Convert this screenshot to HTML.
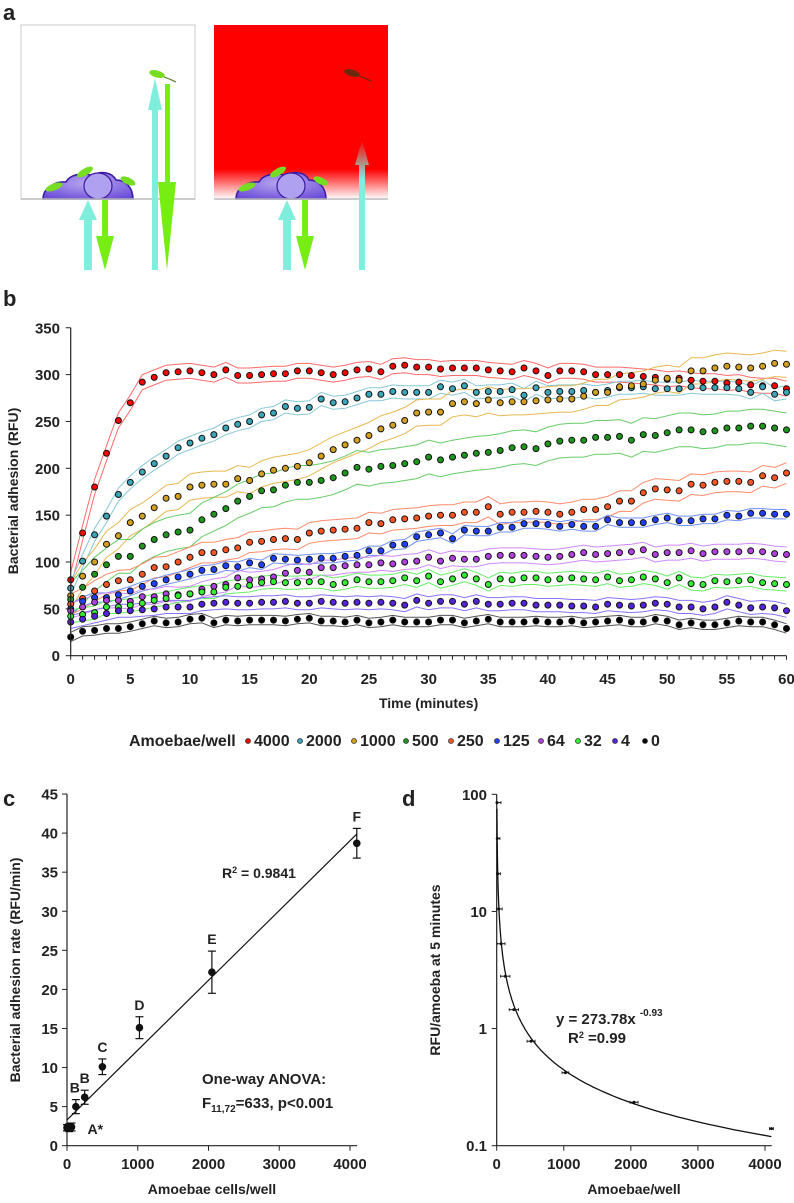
<!DOCTYPE html>
<html><head><meta charset="utf-8"><style>
html,body{margin:0;padding:0;background:#fff;}
svg{display:block;font-family:"Liberation Sans",sans-serif;}
.t{font-weight:bold;fill:#222;}
</style></head><body>
<svg id="fig" width="794" height="1203" viewBox="0 0 794 1203" xmlns="http://www.w3.org/2000/svg">
<defs>
<linearGradient id="redfade" x1="0" y1="0" x2="0" y2="1">
<stop offset="0" stop-color="#ff0000"/><stop offset="0.83" stop-color="#ff0000"/><stop offset="1" stop-color="#ffffff"/>
</linearGradient>
<linearGradient id="cyanfade" x1="0" y1="0" x2="0" y2="1">
<stop offset="0" stop-color="#ff0000"/><stop offset="0.3" stop-color="#80eedd"/><stop offset="1" stop-color="#80eedd"/>
</linearGradient>
<radialGradient id="amoeba" cx="0.5" cy="0.4" r="0.7"><stop offset="0" stop-color="#b8a8f0"/><stop offset="1" stop-color="#6a4ad8"/></radialGradient>
</defs>

<!-- Panel a -->
<g>
<text x="3" y="20" font-size="22" class="t">a</text>
<g>
<rect x="21" y="25" width="174" height="174" fill="#fff" stroke="#ccc" stroke-width="1"/>
<path d="M43,199 C43,188 55,181 66,182 C70,174 85,172 92,176 C100,170 112,172 116,180 C126,180 133,188 133,199 Z" fill="url(#amoeba)" stroke="#3a1aa0" stroke-width="1.5"/>
<ellipse cx="98" cy="186" rx="14" ry="13" fill="#b0a0f0" stroke="#3a1aa0" stroke-width="1.2"/>
<ellipse cx="54" cy="187" rx="9" ry="3.5" fill="#77dd22" transform="rotate(-20 54 187)"/>
<ellipse cx="85" cy="172" rx="9" ry="3.5" fill="#77dd22" transform="rotate(-30 85 172)"/>
<ellipse cx="128" cy="181" rx="8" ry="3.5" fill="#77dd22" transform="rotate(25 128 181)"/>
<ellipse cx="157" cy="74" rx="8" ry="3.5" fill="#77dd22" transform="rotate(15 157 74)"/>
<path d="M164,77 q6,2 12,5" stroke="#557722" fill="none"/>
<line x1="21" y1="199" x2="195" y2="199" stroke="#bbb" stroke-width="1.5"/>
<polygon points="84,270 84,220 79,220 88,200 97,220 92,220 92,270" fill="#80eedd"/>
<polygon points="102,200 108,200 108,236 114,236 105,270 96,236 102,236" fill="#77ee11"/>
<polygon points="152,270 152,110 148,110 155,78 162,110 158,110 158,270" fill="#80eedd"/>
<polygon points="165,84 170,84 170,182 176,182 167,270 158,182 165,182" fill="#77ee11"/>
</g>
<g>
<rect x="214" y="25" width="174" height="174" fill="url(#redfade)"/>
<path d="M236,199 C236,188 248,181 259,182 C263,174 278,172 285,176 C293,170 305,172 309,180 C319,180 326,188 326,199 Z" fill="url(#amoeba)" stroke="#3a1aa0" stroke-width="1.5"/>
<ellipse cx="291" cy="186" rx="14" ry="13" fill="#b0a0f0" stroke="#3a1aa0" stroke-width="1.2"/>
<ellipse cx="247" cy="187" rx="9" ry="3.5" fill="#77dd22" transform="rotate(-20 247 187)"/>
<ellipse cx="278" cy="172" rx="9" ry="3.5" fill="#77dd22" transform="rotate(-30 278 172)"/>
<ellipse cx="321" cy="181" rx="8" ry="3.5" fill="#77dd22" transform="rotate(25 321 181)"/>
<ellipse cx="352" cy="73" rx="8" ry="3.5" fill="#6a2a10" transform="rotate(15 352 73)"/>
<path d="M359,76 q6,2 12,5" stroke="#5a2a10" fill="none"/>
<line x1="214" y1="199" x2="388" y2="199" stroke="#bbb" stroke-width="1.5"/>
<polygon points="283,270 283,220 278,220 287,200 296,220 291,220 291,270" fill="#80eedd"/>
<polygon points="302,200 308,200 308,236 314,236 305,270 296,236 302,236" fill="#77ee11"/>
<polygon points="359,270 359,165 355,165 362,140 369,165 365,165 365,270" fill="url(#cyanfade)"/>
</g>
</g>

<text x="3" y="306" font-size="22" class="t">b</text>
<g id="chartB"></g>
<g id="legendB"></g>

<text x="3" y="806" font-size="22" class="t">c</text>
<g id="chartC"></g>

<text x="402" y="806" font-size="22" class="t">d</text>
<g id="chartD"></g>
</svg>

<script>
// ---------- Panel b data ----------
const bSeriesNames = ["4000","2000","1000","500","250","125","64","32","4","0"];
const bColors = ["#ff0000","#3aa6b8","#d4a020","#1e961e","#ff5522","#2040ff","#b040e0","#33ee33","#5522dd","#000000"];
const bBandColors = ["#ff6a6a","#86c8d6","#e8b850","#66cc66","#ff8a6a","#7090ff","#d088ff","#66ee66","#8a70ff","#555555"];
const bSD = [8, 7, 14, 18, 11, 5, 8, 7, 7, 5];
const bXTicks = [0,5,10,15,20,25,30,35,40,45,50,55,60];
const bYTicks = [0,50,100,150,200,250,300,350];
const s4000 = [81,131,180,216,251,270,292,297,302,303,304,302,300,305,299,299,300,301,301,304,304,302,300,302,305,306,303,309,310,308,308,306,307,307,307,305,304,303,307,304,299,304,304,303,300,300,300,299,298,297,295,296,294,293,293,291,292,289,288,288,285];
const s2000 = [72,101,129,149,172,185,196,205,213,222,227,232,236,243,247,250,257,259,266,264,265,274,270,271,275,279,279,282,281,281,281,287,285,288,281,282,282,284,278,286,281,282,282,283,281,283,286,286,287,285,285,285,287,286,286,286,285,281,287,279,281];
const s1000 = [64,85,100,119,128,142,149,158,168,170,180,182,183,183,189,187,194,198,200,202,206,213,220,225,230,235,242,246,251,259,260,260,269,271,269,273,270,271,271,272,273,274,274,277,281,281,287,288,290,294,296,294,304,304,307,309,308,307,309,312,311];
const s500 = [60,73,87,97,106,106,117,124,129,132,134,145,151,157,165,170,176,177,182,185,185,187,190,195,201,199,202,203,205,207,212,209,212,214,216,217,219,222,223,221,226,229,230,230,233,233,234,230,236,235,238,241,241,239,240,243,243,245,245,243,241];
const s250 = [55,61,69,76,80,81,87,94,95,100,105,110,110,113,115,121,122,124,125,124,131,133,134,135,136,142,141,145,146,147,149,150,150,153,153,159,151,153,153,154,153,151,153,156,156,159,165,165,174,178,177,176,183,182,185,186,186,185,192,190,195];
const s125 = [50,58,62,62,65,69,74,77,81,84,87,91,92,96,95,99,97,104,103,102,103,104,104,106,107,112,112,118,119,127,129,131,125,134,133,133,137,137,141,141,140,138,140,138,138,145,142,142,142,145,147,144,144,146,146,150,149,152,152,151,151];
const s64 = [48,52,57,59,59,58,63,63,66,65,66,71,74,76,83,81,82,84,88,91,89,94,94,96,97,97,99,98,100,101,105,101,104,103,103,106,107,107,107,106,105,106,108,110,108,109,110,111,113,108,110,110,112,109,111,111,111,112,111,109,108];
const s32 = [42,44,46,52,52,54,56,59,61,64,66,68,68,73,74,75,78,79,78,78,79,79,76,78,81,79,79,80,83,80,85,79,82,86,82,76,82,81,83,83,81,82,83,82,81,84,80,81,84,82,78,83,77,76,80,79,80,81,78,77,76];
const s4 = [36,39,42,45,48,48,49,50,52,52,52,55,56,57,56,56,57,57,58,56,56,58,57,56,57,56,57,56,54,59,56,58,58,55,58,55,55,56,56,54,54,54,53,53,52,55,54,53,54,56,55,52,52,50,52,57,54,51,52,51,48];
const s0 = [20,26,27,29,29,31,34,37,35,36,39,40,35,38,37,38,38,38,37,39,40,37,37,36,38,35,36,38,36,36,36,38,38,35,37,39,36,36,36,37,36,36,37,35,36,37,38,36,36,39,37,33,35,33,33,35,37,36,36,33,29];
const bValues = [s4000,s2000,s1000,s500,s250,s125,s64,s32,s4,s0];

// ---------- Panel c data ----------
const cCells = [0,4,32,64,125,250,500,1024,2048,4096];
const cRate = [2.3,2.3,2.3,2.4,5.0,6.2,10.1,15.1,22.2,38.7];
const cErr = [0.4,0.4,0.5,0.5,0.9,0.9,1.0,1.4,2.7,1.9];
const cLetters = ["","","","A*","B","B","C","D","E","F"];
const cFit = [3.3, 0.00893]; // intercept, slope
const cXTicks = [0,1000,2000,3000,4000];
const cYTicks = [0,5,10,15,20,25,30,35,40,45];

// ---------- Panel d data ----------
const dCells = [4,8,16,32,64,128,256,512,1024,2048,4096];
const dRFU = [85,42,21,10.5,5.3,2.8,1.45,0.78,0.42,0.235,0.14];
const dXErr = [60,40,40,50,60,70,70,60,50,60,30];
const dFit = [273.78, -0.93];
const dXTicks = [0,1000,2000,3000,4000];
const dYTicks = [0.1,1,10,100];
const dYTickLabels = ["0.1","1","10","100"];

const NS = "http://www.w3.org/2000/svg";
function mk(parent, tag, attrs, text){
  const e = document.createElementNS(NS, tag);
  for (const k in attrs) e.setAttribute(k, attrs[k]);
  if (text !== undefined) e.textContent = text;
  parent.appendChild(e);
  return e;
}

// ---------- Chart b ----------
(function(){
  const g = document.getElementById('chartB');
  const x = t => 70.7 + t * 11.93;
  const y = v => 655.7 - v * 0.937;
  bValues.forEach((vals, si) => {
    ['+','-'].forEach(sign => {
      const pts = vals.map((v,i) => x(i).toFixed(1)+','+y(sign==='+'?v+bSD[si]:v-bSD[si]).toFixed(1)).join(' ');
      const pl = mk(g,'polyline',{points:pts,fill:'none',stroke:bBandColors[si],'stroke-width':1});
      
      
    });
  });
  bValues.forEach((vals, si) => {
    const sg = mk(g,'g',{});
    
    
    vals.forEach((v,i) => {
      const c = mk(sg,'circle',{cx:x(i).toFixed(1),cy:y(v).toFixed(1),r:3,fill:bColors[si],stroke:'#111','stroke-width':1});
      
      
    });
  });
  const ax = mk(g,'line',{x1:x(0),y1:y(0),x2:x(60),y2:y(0),stroke:'#222','stroke-width':1.2});
   
  const ay = mk(g,'line',{x1:x(0),y1:y(0),x2:x(0),y2:y(350),stroke:'#222','stroke-width':1.2});
   
  for (let t=0;t<=60;t++) mk(g,'line',{x1:x(t),y1:y(0),x2:x(t),y2:y(0)+4,stroke:'#222','stroke-width':1});
  bXTicks.forEach(t => {
    const tx = mk(g,'text',{x:x(t),y:684,'font-size':15,'text-anchor':'middle',class:'t'},String(t));
     
  });
  bYTicks.forEach(v => {
    mk(g,'line',{x1:x(0)-5,y1:y(v),x2:x(0),y2:y(v),stroke:'#222','stroke-width':1});
    const tx = mk(g,'text',{x:60,y:y(v)+5.5,'font-size':15,'text-anchor':'end',class:'t'},String(v));
     
  });
  const xt = mk(g,'text',{x:x(30),y:708,'font-size':14,'text-anchor':'middle',class:'t'},'Time (minutes)');
   
  const yt = mk(g,'text',{x:0,y:0,'font-size':14,'text-anchor':'middle',class:'t',transform:'translate(18,491) rotate(-90)'},'Bacterial adhesion (RFU)');
   

  const L = document.getElementById('legendB');
  const lt = mk(L,'text',{x:129,y:746,'font-size':16,class:'t'},'Amoebae/well');
   
  const itemX = [248,300,354,406,451,497,541,578,615,645];
  bSeriesNames.forEach((n,i) => {
    const eg = mk(L,'g',{});
    
    
    mk(eg,'circle',{cx:itemX[i],cy:741,r:2.5,fill:bColors[i],stroke:'#333','stroke-width':0.8});
    mk(eg,'text',{x:itemX[i]+6,y:746,'font-size':16,class:'t'},n);
  });
})();

// ---------- Chart c ----------
(function(){
  const g = document.getElementById('chartC');
  const x = v => 67 + v * 283/4000;
  const y = v => 1145.7 - v * 7.815;
  mk(g,'line',{x1:x(0),y1:y(0),x2:x(4100),y2:y(0),stroke:'#222','stroke-width':1.2});
  mk(g,'line',{x1:x(0),y1:y(0),x2:x(0),y2:y(45),stroke:'#222','stroke-width':1.2});
  cXTicks.forEach(v => {
    mk(g,'line',{x1:x(v),y1:y(0),x2:x(v),y2:y(0)+5,stroke:'#222'});
    const t = mk(g,'text',{x:x(v),y:1169,'font-size':15,'text-anchor':'middle',class:'t'},String(v));
     
  });
  cYTicks.forEach(v => {
    mk(g,'line',{x1:x(0)-5,y1:y(v),x2:x(0),y2:y(v),stroke:'#222'});
    const t = mk(g,'text',{x:58,y:y(v)+5.5,'font-size':15,'text-anchor':'end',class:'t'},String(v));
     
  });
  const fl = mk(g,'line',{x1:x(0),y1:y(cFit[0]),x2:x(4096),y2:y(cFit[0]+cFit[1]*4096),stroke:'#111','stroke-width':1.2});
   
  cCells.forEach((c,i) => {
    const pg = mk(g,'g',{});
    
    
    const px = x(c), y1 = y(cRate[i]+cErr[i]), y2 = y(cRate[i]-cErr[i]);
    mk(pg,'line',{x1:px,y1:y1,x2:px,y2:y2,stroke:'#111','stroke-width':1.2});
    mk(pg,'line',{x1:px-4,y1:y1,x2:px+4,y2:y1,stroke:'#111','stroke-width':1.2});
    mk(pg,'line',{x1:px-4,y1:y2,x2:px+4,y2:y2,stroke:'#111','stroke-width':1.2});
    mk(pg,'circle',{cx:px,cy:y(cRate[i]),r:3.8,fill:'#111'});
    if (cLetters[i]) {
      let lx = px, ly = y(cRate[i]+cErr[i]) - 7, anchor='middle';
      if (cLetters[i]==='A*') { lx = px+16; ly = y(cRate[i])+7; anchor='start'; }
      if (i===4) { lx = px - 1; }
      const lt = mk(pg,'text',{x:lx,y:ly,'font-size':14,'text-anchor':anchor,class:'t'},cLetters[i]);
       
    }
  });
  const r2 = mk(g,'text',{x:222,y:878,'font-size':14,class:'t'});
   
  r2.innerHTML = 'R<tspan dy="-5" font-size="9">2</tspan><tspan dy="5"> = 0.9841</tspan>';
  const a1 = mk(g,'text',{x:202,y:1084,'font-size':15,class:'t'},'One-way ANOVA:');
   
  const a2 = mk(g,'text',{x:202,y:1108,'font-size':15,class:'t'});
   
  a2.innerHTML = 'F<tspan dy="4" font-size="10">11,72</tspan><tspan dy="-4">=633, p&lt;0.001</tspan>';
  const xt = mk(g,'text',{x:212,y:1194,'font-size':14,'text-anchor':'middle',class:'t'},'Amoebae cells/well');
   
  const yt = mk(g,'text',{x:0,y:0,'font-size':14,'text-anchor':'middle',class:'t',transform:'translate(20,970) rotate(-90)'},'Bacterial adhesion rate (RFU/min)');
   
})();

// ---------- Chart d ----------
(function(){
  const g = document.getElementById('chartD');
  const x = v => 496.7 + v * 268.3/4000;
  const y = v => 1145.7 - (Math.log10(v) + 1) * 117.13;
  mk(g,'line',{x1:x(0),y1:y(0.1),x2:x(4100),y2:y(0.1),stroke:'#222','stroke-width':1.2});
  mk(g,'line',{x1:x(0),y1:y(0.1),x2:x(0),y2:y(100),stroke:'#222','stroke-width':1.2});
  dXTicks.forEach(v => {
    mk(g,'line',{x1:x(v),y1:y(0.1),x2:x(v),y2:y(0.1)+5,stroke:'#222'});
    const t = mk(g,'text',{x:x(v),y:1169,'font-size':15,'text-anchor':'middle',class:'t'},String(v));
     
  });
  dYTicks.forEach((v,i) => {
    mk(g,'line',{x1:x(0)-5,y1:y(v),x2:x(0),y2:y(v),stroke:'#222'});
    const t = mk(g,'text',{x:487,y:y(v)+5.5,'font-size':15,'text-anchor':'end',class:'t'},dYTickLabels[i]);
     
  });
  let pts = [];
  for (let c = dCells[0]; c <= 4096; c *= 1.04) pts.push(x(c).toFixed(1)+','+y(dFit[0]*Math.pow(c,dFit[1])).toFixed(1));
  pts.push(x(4096).toFixed(1)+','+y(dFit[0]*Math.pow(4096,dFit[1])).toFixed(1));
  const fc = mk(g,'polyline',{points:pts.join(' '),fill:'none',stroke:'#111','stroke-width':1.3});
   
  dCells.forEach((c,i) => {
    const pg = mk(g,'g',{});
    
    
    const py = y(dRFU[i]);
    const xl = x(Math.max(0,c-dXErr[i])), xr = x(c+dXErr[i]);
    mk(pg,'line',{x1:xl,y1:py,x2:xr,y2:py,stroke:'#111','stroke-width':1});
    mk(pg,'line',{x1:xl,y1:py-1.5,x2:xl,y2:py+1.5,stroke:'#111','stroke-width':0.8});
    mk(pg,'line',{x1:xr,y1:py-1.5,x2:xr,y2:py+1.5,stroke:'#111','stroke-width':0.8});
    mk(pg,'circle',{cx:x(c),cy:py,r:1.5,fill:'#111'});
  });
  const eq = mk(g,'text',{x:556,y:1024,'font-size':15,class:'t'});
   
  eq.innerHTML = 'y = 273.78x <tspan dy="-8" font-size="10">-0.93</tspan>';
  const r2 = mk(g,'text',{x:568,y:1043,'font-size':15,class:'t'});
   
  r2.innerHTML = 'R<tspan dy="-5" font-size="9">2</tspan><tspan dy="5"> =0.99</tspan>';
  const xt = mk(g,'text',{x:634,y:1194,'font-size':14,'text-anchor':'middle',class:'t'},'Amoebae/well');
   
  const yt = mk(g,'text',{x:0,y:0,'font-size':14,'text-anchor':'middle',class:'t',transform:'translate(440,970) rotate(-90)'},'RFU/amoeba at 5 minutes');
   
})();
</script>
</body></html>
